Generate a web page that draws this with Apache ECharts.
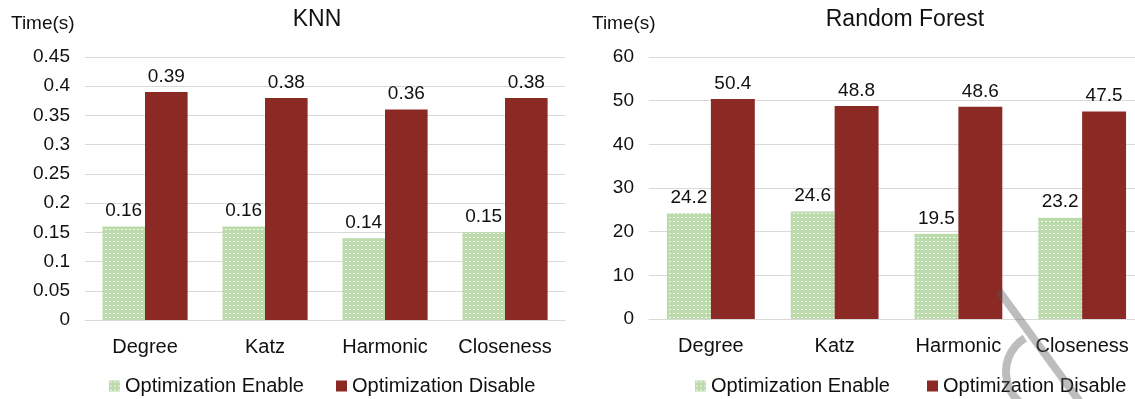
<!DOCTYPE html>
<html>
<head>
<meta charset="utf-8">
<script src="https://cdn.jsdelivr.net/npm/echarts@6/dist/echarts.min.js"></script>
<style>
html,body{margin:0;padding:0;background:#fff;overflow:hidden;width:1135px;height:399px;}
#c{width:1150px;height:399px;}
</style>
</head>
<body>
<div id="c"></div>
<script>
// ---- data ----
const categories = ['Degree', 'Katz', 'Harmonic', 'Closeness'];
const seriesNames = ['Optimization Enable', 'Optimization Disable'];
const knnEnable = [0.16, 0.16, 0.14, 0.15];
const knnDisable = [0.39, 0.38, 0.36, 0.38];
const rfEnable = [24.2, 24.6, 19.5, 23.2];
const rfDisable = [50.4, 48.8, 48.6, 47.5];
const chartTitles = ['KNN', 'Random Forest'];
const yAxisName = 'Time(s)';

// ---- style ----
const FONT = '"Liberation Sans", Arial, sans-serif';
const RED = '#8b2925';
const GRID_COLOR = '#d9d9d9';
const TEXT = '#111';

function makePattern() {
  const c = document.createElement('canvas');
  c.width = 4; c.height = 4;
  const ctx = c.getContext('2d');
  ctx.fillStyle = '#bbdbab';
  ctx.fillRect(0, 0, 4, 4);
  ctx.fillStyle = '#f4f9f0';
  ctx.fillRect(1, 1, 2, 1);
  return c;
}
const GREEN = { image: makePattern(), repeat: 'repeat' };

const chart = echarts.init(document.getElementById('c'), null, { renderer: 'canvas' });

function xAxisFor(idx) {
  return {
    type: 'category', gridIndex: idx, data: categories,
    axisTick: { show: false },
    axisLine: { lineStyle: { color: GRID_COLOR, width: 1 } },
    axisLabel: { color: TEXT, fontSize: 20, fontFamily: FONT, margin: 17, interval: 0, hideOverlap: false }
  };
}
function yAxisFor(idx, max, interval) {
  return {
    type: 'value', gridIndex: idx, min: 0, max: max, interval: interval,
    axisLine: { show: false }, axisTick: { show: false },
    axisLabel: { color: TEXT, fontSize: 19, fontFamily: FONT, margin: 15 },
    splitLine: { lineStyle: { color: GRID_COLOR, width: 1 } }
  };
}
function barSeries(name, data, idx, color) {
  return {
    name: name, type: 'bar', xAxisIndex: idx, yAxisIndex: idx, data: data,
    barWidth: '35.5%', barGap: '0%',
    itemStyle: { color: color },
    label: { show: true, position: 'top', distance: 6, color: TEXT, fontSize: 19, fontFamily: FONT },
    animation: false
  };
}
const legendCommon = {
  data: seriesNames, itemWidth: 11, itemHeight: 11, icon: 'rect', padding: 0,
  textStyle: { color: TEXT, fontSize: 20, fontFamily: FONT }, top: 376
};
function nameText(x, y) {
  return {
    type: 'text', x: x, y: y, silent: true,
    style: { text: yAxisName, fill: TEXT, font: '19px ' + FONT, textAlign: 'left', textVerticalAlign: 'middle' }
  };
}

chart.setOption({
  animation: false,
  title: [
    { text: chartTitles[0], left: 312, top: 3, textAlign: 'center',
      textStyle: { fontSize: 23, fontWeight: 'normal', color: TEXT, fontFamily: FONT } },
    { text: chartTitles[1], left: 900, top: 3, textAlign: 'center',
      textStyle: { fontSize: 23, fontWeight: 'normal', color: TEXT, fontFamily: FONT } }
  ],
  legend: [
    Object.assign({}, legendCommon, { left: 109, itemGap: 32 }),
    Object.assign({}, legendCommon, { left: 695, itemGap: 37 })
  ],
  grid: [
    { left: 85, width: 480, top: 57, bottom: 79 },
    { left: 649, width: 495, top: 57, bottom: 80 }
  ],
  xAxis: [xAxisFor(0), xAxisFor(1)],
  yAxis: [yAxisFor(0, 0.45, 0.05), yAxisFor(1, 60, 10)],
  series: [
    barSeries(seriesNames[0], knnEnable, 0, GREEN),
    barSeries(seriesNames[1], knnDisable, 0, RED),
    barSeries(seriesNames[0], rfEnable, 1, GREEN),
    barSeries(seriesNames[1], rfDisable, 1, RED)
  ],
  graphic: [
    nameText(11, 24),
    nameText(592, 24),
    { type: 'line', silent: true, z: 100,
      shape: { x1: 999, y1: 291, x2: 1080, y2: 402 },
      style: { stroke: 'rgba(90,90,90,0.4)', lineWidth: 8 } },
    { type: 'arc', silent: true, z: 100,
      shape: { cx: 1046, cy: 372, r: 40, startAngle: 130 * Math.PI / 180, endAngle: 238 * Math.PI / 180, clockwise: true },
      style: { stroke: 'rgba(90,90,90,0.4)', lineWidth: 8, fill: null } }
  ]
});
</script>
</body>
</html>
